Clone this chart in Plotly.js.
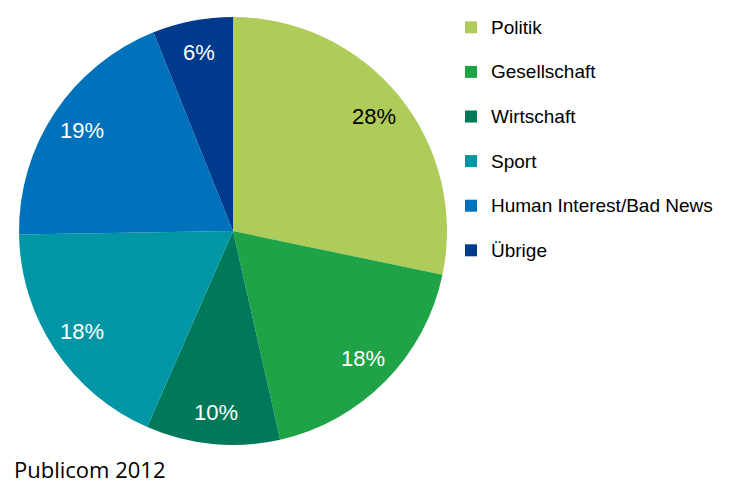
<!DOCTYPE html>
<html>
<head>
<meta charset="utf-8">
<script src="https://cdn.plot.ly/plotly-3.0.1.min.js"></script>
<style>
  html, body { margin: 0; padding: 0; background: #fff; }
  #chart { width: 733px; height: 484px; }
</style>
</head>
<body>
<div id="chart"></div>
<script>
// Themenanteile (in %), im Uhrzeigersinn ab 12 Uhr
const categories = ['Politik', 'Gesellschaft', 'Wirtschaft', 'Sport', 'Human Interest/Bad News', 'Übrige'];
const shares = [28, 18, 10, 18, 19, 6];
const sliceColors = ['#afcb5a', '#1fa347', '#00785a', '#0096a6', '#0071bb', '#003a8c'];
const labelColors = ['#000000', '#ffffff', '#ffffff', '#ffffff', '#ffffff', '#ffffff'];
const source = 'Publicom 2012';

const W = 733, H = 484;
// Kreis: Mitte (233, 231), Radius 214 px
const cx = 233, cy = 231, r = 214;
const labelRadius = 0.85; // Prozentwerte weiter aussen als Plotly sie setzen wuerde

// Legendentext kleiner als die Legendenschrift, damit die Zeilen weiter auseinander liegen
const legendLabels = categories.map(c => `<span style="font-size:19px;baseline-shift:6px">${c}</span>`);

const trace = {
    type: 'pie',
    labels: legendLabels,
    values: shares,
    sort: false,
    direction: 'clockwise',
    rotation: 0,
    marker: { colors: sliceColors, line: { width: 0 } },
    textinfo: 'none',
    hoverinfo: 'skip',
    domain: {
        x: [(cx - r) / W, (cx + r) / W],
        y: [1 - (cy + r) / H, 1 - (cy - r) / H]
    }
};

// Prozentlabels in der Mitte jedes Segments, aus den Anteilen berechnet
const total = shares.reduce((a, b) => a + b, 0);
let acc = 0;
const sliceLabels = shares.map((v, i) => {
    const mid = (acc + v / 2) / total * 2 * Math.PI;
    acc += v;
    return {
        text: v + '%',
        xref: 'paper', yref: 'paper',
        x: (cx + Math.sin(mid) * r * labelRadius) / W,
        y: 1 - (cy - Math.cos(mid) * r * labelRadius) / H,
        xanchor: 'center', yanchor: 'middle',
        showarrow: false,
        font: { family: 'Liberation Sans, Arial, sans-serif', size: 22, color: labelColors[i] }
    };
});

const layout = {
    width: W,
    height: H,
    margin: { l: 0, r: 0, t: 0, b: 0 },
    paper_bgcolor: '#ffffff',
    showlegend: true,
    legend: {
        x: 451 / W,
        xanchor: 'left',
        y: 1,
        yanchor: 'top',
        font: { family: 'Liberation Sans, Arial, sans-serif', size: 32, color: '#000000' },
        bgcolor: 'rgba(0,0,0,0)',
        traceorder: 'normal'
    },
    annotations: sliceLabels.concat([{
        text: source,
        xref: 'paper', yref: 'paper',
        x: 12 / W, y: 0,
        xanchor: 'left', yanchor: 'bottom',
        yshift: -2,
        showarrow: false,
        font: { family: 'Open Sans, sans-serif', size: 22, color: '#000000' }
    }])
};

Plotly.newPlot('chart', [trace], layout, { displayModeBar: false, staticPlot: true });
</script>
</body>
</html>
